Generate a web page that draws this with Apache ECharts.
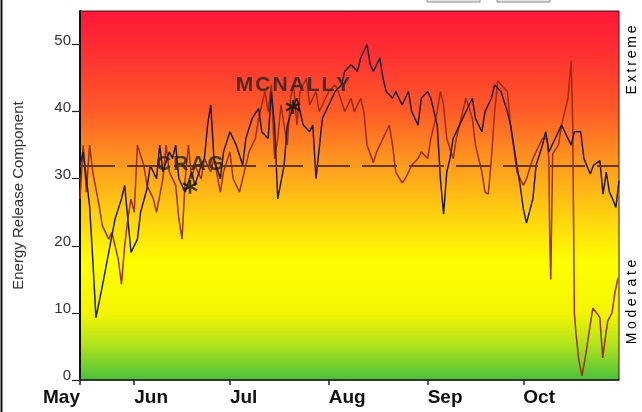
<!DOCTYPE html>
<html><head><meta charset="utf-8">
<script src="https://cdn.jsdelivr.net/npm/echarts@6/dist/echarts.min.js"></script>
<style>html,body{margin:0;padding:0;background:#fff;}#c{width:642px;height:412px;}</style>
</head><body><div id="c"></div>
<script>
// Days counted from May 15
const monthLabels = ['May','Jun','Jul','Aug','Sep','Oct'];
const monthDays = [0,17,47,78,109,139];
const yTicks = [0,10,20,30,40,50];
const averageERC = 32;
const seriesDark = [[0,32],[1,34],[3,26],[4,18],[5,9.3],[7,14],[9,19],[11,24],[13,27],[14,29],[16,19],[18,21],[19,25],[21,28.5],[22,32],[24,30],[25,35],[26,31],[28,34],[29,33],[30,35],[31,30],[33,28],[35,31],[36,29],[38,32],[39,33],[40,38],[41,41],[42,33],[44,30],[45,34],[47,37],[49,35],[51,32],[52,36],[54,39],[56,40.5],[57,37],[59,36],[60,43],[61,38],[62,27],[64,32],[65,38],[67,41],[68,42],[70,38],[72,37],[73,38],[74,30],[76,39],[77,40],[79,42],[80,43],[82,44],[83,46],[85,47],[87,46],[88,48],[90,50],[91,47],[92,46],[94,48],[95,45],[96,43],[98,42],[99,43],[101,41],[102,42],[103,43],[104,40],[106,38],[107,42],[109,43],[110,42],[112,38],[113,30],[114,24.7],[115,31],[116,33],[117,36],[119,38],[121,40],[123,42],[124,39],[126,37],[127,40],[129,42],[130,44],[132,43],[134,40],[135,38],[137,32],[138,29],[139,25.5],[140,23.4],[142,27],[143,32],[145,35],[146,37],[147,34],[149,36],[151,38],[152,37],[154,35],[155,37],[157,37],[158,33],[160,30.7],[161,32],[163,32.7],[164,27.7],[165,31],[166,28],[167,27],[168,25.7],[169,29.7]];
const seriesBrown = [[0,27],[1,35],[2,28],[3,35],[4,31],[6,26],[7,23],[9,21],[10,22],[11,20],[12,18],[13,14.3],[14,20],[15,24],[16,27],[17,25],[18,35],[20,32],[21,29],[23,27],[24,25],[26,30],[27,35],[28,31],[30,29],[31,24],[32,21],[33,30],[34,35],[35,30],[36,32],[38,30],[39,33],[41,31],[42,33],[44,28],[45,31],[47,34],[48,30],[50,28],[52,32],[53,34],[55,36],[56,39],[58,43],[59,40],[60,44],[61,33],[62,36],[63,41],[65,35],[66,42],[67,44],[68,38],[69,43],[71,45],[72,41],[74,43],[75,40],[77,42],[78,43],[80,44],[81,43],[83,40],[85,42],[86,40],[88,42],[89,40],[90,35],[92,32.4],[93,34],[95,36],[97,38],[98,35],[99,31],[101,29.4],[102,30],[104,32],[106,33],[107,34],[109,33],[110,36],[112,40],[113,43],[114,41],[115,36],[117,33],[118,36],[120,40],[121,42],[123,39],[124,35],[126,31],[127,28],[128,27.7],[129,33],[130,40],[131,44.6],[132,44],[134,43],[135,38],[137,31],[139,29],[140,30],[142,33],[143,34],[145,36],[146.5,36],[147,33],[147.3,20.7],[147.6,15],[148.2,33.7],[150,35],[151,38],[153,42],[154,47.6],[154.5,38],[155,10],[155.5,7],[156.4,3],[157.4,0.6],[158.3,3],[158.9,4.8],[159.9,8],[160.8,10.7],[162,10],[163,9.3],[163.9,3.3],[164.9,7],[165.5,8.8],[166.8,10],[167.7,13],[168.7,15.2]];
const fireNames = ['CRAG','MCNALLY'];
const fireDays = [34.5, 66.8];
const fireValues = [28.8, 40.7];

function spaced(t){ return t.split('').map(c => '{s|' + c + '}').join(''); }

const chart = echarts.init(document.getElementById('c'), null, {renderer:'canvas'});
const FONT = 'Liberation Sans, Arial, sans-serif';
chart.setOption({
  animation:false,
  backgroundColor:'#ffffff',
  grid:{left:80,right:23,top:11,bottom:32,show:true,borderColor:'#3a1414',borderWidth:1,
    backgroundColor:{type:'linear',x:0,y:0,x2:0,y2:1,colorStops:[
      {offset:0,color:'#ff1838'},{offset:0.1,color:'#ff2c32'},{offset:0.27,color:'#ff5a28'},
      {offset:0.42,color:'#ff9c1e'},{offset:0.56,color:'#ffd40e'},{offset:0.68,color:'#ffff00'},
      {offset:0.82,color:'#f2f500'},{offset:0.9,color:'#b4e41c'},{offset:1,color:'#48c03a'}]}},
  xAxis:[{type:'value',min:0,max:169,position:'bottom',
    axisLine:{lineStyle:{color:'#222',width:1.5}},
    axisTick:{customValues:monthDays,length:5,lineStyle:{color:'#222',width:1.5}},
    axisLabel:{customValues:monthDays.slice(1),formatter:v=>monthLabels[monthDays.indexOf(v)],
      align:'left',fontSize:19,fontWeight:'bold',color:'#111',fontFamily:FONT,margin:8},
    splitLine:{show:false}},
    {type:'value',min:0,max:169,position:'bottom',
    axisLine:{show:false},axisTick:{show:false},
    axisLabel:{customValues:[monthDays[0]],formatter:v=>monthLabels[0],
      align:'right',fontSize:19,fontWeight:'bold',color:'#111',fontFamily:FONT,margin:8},
    splitLine:{show:false}}],
  yAxis:{type:'value',min:0,max:55,
    name:'Energy Release Component',nameLocation:'middle',nameGap:54,
    nameTextStyle:{fontSize:15,color:'#333',fontFamily:FONT},
    axisLine:{show:true,lineStyle:{color:'#111',width:2}},
    axisTick:{show:true,customValues:yTicks,length:8,lineStyle:{color:'#222',width:1.2}},
    axisLabel:{customValues:yTicks,fontSize:15,color:'#333',fontFamily:FONT,margin:9,verticalAlign:'bottom',lineHeight:8},
    splitLine:{show:false}},
  series:[
    {type:'line',data:seriesBrown,showSymbol:false,z:2,lineStyle:{color:'#9a3010',width:1.5},
      markLine:{silent:true,symbol:'none',label:{show:false},
        lineStyle:{type:[35,12],color:'#6a3420',width:2},data:[{yAxis:averageERC}]}},
    {type:'line',data:seriesDark,showSymbol:false,z:3,lineStyle:{color:'#22183e',width:1.5}},
    {type:'scatter',z:5,xAxisIndex:0,
      data:fireNames.map((n,i)=>({name:n,value:[fireDays[i],fireValues[i]]})),
      symbol:'path://M10,0 L10,20 M1.3,5 L18.7,15 M1.3,15 L18.7,5',symbolSize:14,
      itemStyle:{color:'#111',borderColor:'#111',borderWidth:2.4},
      label:{show:true,position:'top',distance:3,formatter:p=>spaced(p.name),
        fontSize:21,fontWeight:'bold',fontFamily:FONT,color:'#222',lineHeight:22,
        rich:{s:{fontSize:21,fontWeight:'bold',color:'#222',fontFamily:FONT,lineHeight:22,padding:[0,1,0,1]}}}}
  ],
  graphic:[
    {type:'line',shape:{x1:1.5,y1:0,x2:1.5,y2:412},style:{stroke:'#111',lineWidth:2},silent:true},
    {type:'rect',shape:{x:427,y:-4,width:53,height:6},style:{fill:'#e6e6e6',stroke:'#888',lineWidth:1},silent:true},
    {type:'rect',shape:{x:497,y:-4,width:53,height:6},style:{fill:'#e6e6e6',stroke:'#888',lineWidth:1},silent:true},
    {type:'text',x:632,y:60,rotation:Math.PI/2,silent:true,
      style:{text:spaced('Extreme'),align:'center',verticalAlign:'middle',fontSize:14,fontFamily:FONT,
        rich:{s:{fontSize:14,color:'#333',fontFamily:FONT,padding:[0,1.4,0,1.4]}}}},
    {type:'text',x:632,y:302,rotation:Math.PI/2,silent:true,
      style:{text:spaced('Moderate'),align:'center',verticalAlign:'middle',fontSize:14,fontFamily:FONT,
        rich:{s:{fontSize:14,color:'#333',fontFamily:FONT,padding:[0,1.8,0,1.8]}}}}
  ]
});
</script></body></html>
